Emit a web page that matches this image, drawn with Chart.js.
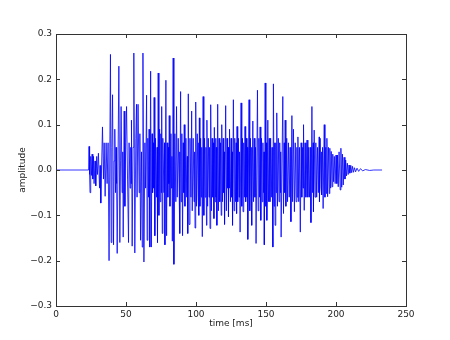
<!DOCTYPE html>
<html>
<head>
<meta charset="utf-8">
<script src="https://cdn.jsdelivr.net/npm/chart.js@4/dist/chart.umd.min.js"></script>
<style>
  body { margin: 0; background: #fff; }
</style>
</head>
<body>
<canvas id="wave" width="450" height="340"></canvas>
<script>
// [time ms, amplitude]
const silence = [[0, 0], [23.3, 0]];

const onset = [
  [23.6, 0.052], [24.0, -0.01], [24.3, -0.05], [24.8, 0.03], [25.3, -0.012], [25.8, 0.035],
  [26.3, -0.02], [26.8, 0.03], [27.2, -0.03], [27.9, 0.02], [28.4, -0.035], [29.1, 0.03],
  [29.6, -0.01], [30.3, 0.037], [31.1, -0.04], [31.5, 0.01], [32.0, -0.073], [32.5, 0.0],
  [33.2, 0.095], [33.9, -0.02], [34.4, 0.06], [35.1, -0.058], [35.8, 0.06], [36.5, -0.03],
  [37.2, 0.06]
];

const voiced = [
  [37.9, -0.2], [38.9, 0.255], [39.4, -0.16], [39.9, 0.05], [40.4, 0.166], [41.1, -0.165], [41.5, 0.02], [42.0, 0.09], [42.5, -0.05], [42.9, 0.05], [43.3, -0.03], [43.7, -0.184],
  [44.9, 0.229], [45.6, -0.16], [46.1, 0.02], [46.5, 0.14], [47.2, -0.05], [47.7, 0.04], [48.0, -0.148], [48.7, 0.13], [49.2, -0.08], [49.8, 0.06],
  [50.4, 0.14], [51.1, -0.02], [51.8, -0.16], [52.2, 0.06], [52.9, -0.04], [53.4, 0.05], [53.6, -0.03], [53.9, 0.11], [54.4, -0.168], [55.0, 0.05],
  [55.6, 0.258], [56.3, -0.183], [57.0, 0.07], [57.5, 0.145], [57.9, -0.06], [58.6, 0.145], [59.4, -0.05], [59.9, 0.08], [60.4, -0.155], [61.1, 0.04], [61.6, -0.17],
  [62.1, 0.258], [62.8, -0.203], [63.5, 0.06], [64.0, -0.04], [64.7, 0.165], [65.1, -0.155], [65.6, 0.07], [66.1, -0.06], [66.5, 0.09], [67.0, -0.17],
  [67.6, 0.218], [68.1, -0.17], [68.6, 0.08], [69.0, -0.05], [69.5, 0.06], [69.8, -0.04], [70.1, 0.16], [70.6, -0.145], [71.1, 0.07], [71.8, -0.06], [72.2, 0.05], [72.5, -0.16],
  [73.0, 0.214], [73.5, -0.1], [74.0, 0.09], [74.4, -0.07], [74.9, 0.08], [75.2, -0.05], [75.5, 0.14], [75.9, -0.14], [76.3, 0.07], [77.1, -0.05], [77.5, 0.06], [77.8, -0.165],
  [78.5, 0.198], [79.0, -0.145], [79.4, 0.06], [79.9, -0.06], [80.4, 0.05], [80.6, -0.03], [80.9, 0.12], [81.4, -0.08], [82.1, 0.08], [82.5, -0.04], [82.8, 0.03], [83.1, -0.157],
  [83.7, 0.247], [84.2, -0.208], [84.9, 0.08], [85.6, -0.07], [86.1, 0.14], [86.6, -0.06], [87.3, 0.07], [88.0, -0.05], [88.3, 0.04], [88.5, -0.14],
  [89.0, 0.173], [89.4, -0.07], [89.9, 0.08], [90.4, -0.145], [90.9, 0.06], [91.3, -0.05], [91.6, 0.1], [92.1, -0.08], [92.8, 0.07], [93.4, -0.06], [93.8, 0.03], [94.1, -0.14],
  [94.5, 0.168], [95.0, -0.12], [95.7, 0.07], [96.4, -0.06], [96.9, 0.13], [97.3, -0.09], [98.0, 0.07], [98.6, -0.07], [99.0, 0.04], [99.3, -0.128],
  [99.8, 0.15], [100.3, -0.08], [100.9, 0.08], [101.5, -0.06], [101.9, 0.06], [102.1, -0.1], [102.4, 0.115], [102.8, -0.08], [103.3, 0.07], [103.8, -0.06], [104.1, 0.05], [104.5, -0.147],
  [105.1, 0.162], [105.6, -0.1], [106.1, 0.07], [106.6, -0.06], [107.1, 0.05], [107.5, -0.122], [107.8, 0.11], [108.3, -0.08], [108.8, 0.07], [109.3, -0.06], [109.7, 0.05], [110.0, -0.129],
  [110.5, 0.144], [111.0, -0.09], [111.5, 0.07], [112.0, -0.06], [112.4, 0.06], [112.8, -0.107], [113.1, 0.094], [113.6, -0.07], [114.1, 0.07], [114.2, -0.06], [114.5, 0.05], [114.9, -0.122],
  [115.5, 0.145], [116.0, -0.09], [116.5, 0.07], [117.0, -0.07], [117.5, 0.06], [118.0, -0.1], [118.4, 0.1], [118.9, -0.07], [119.4, 0.07], [119.8, -0.05], [120.0, 0.04], [120.4, -0.12],
  [121.2, 0.142], [121.7, -0.09], [122.2, 0.07], [122.6, -0.04], [122.9, 0.05], [123.2, -0.103], [123.6, 0.05], [123.8, -0.04], [124.1, 0.09], [124.6, -0.07], [125.1, 0.07], [125.5, -0.06], [125.8, 0.04], [126.1, -0.122],
  [126.7, 0.155], [127.2, -0.09], [127.7, 0.07], [128.2, -0.07], [128.7, 0.06], [129.0, -0.096], [129.3, 0.096], [129.8, -0.07], [130.3, 0.07], [130.8, -0.06], [131.1, 0.04], [131.5, -0.137],
  [132.2, 0.148], [132.7, -0.08], [133.2, 0.07], [133.6, -0.092], [134.1, 0.06], [134.6, -0.06], [135.0, 0.096], [135.5, -0.07], [136.0, 0.07], [136.4, -0.06], [136.7, 0.05], [137.0, -0.153],
  [137.9, 0.155], [138.4, -0.09], [138.9, 0.07], [139.4, -0.06], [139.7, 0.05], [139.9, -0.122], [140.6, 0.108], [141.1, -0.07], [141.6, 0.07], [142.1, -0.06], [142.5, 0.05], [142.9, -0.162],
  [143.9, 0.176], [144.4, -0.09], [144.9, 0.07], [145.4, -0.06], [145.8, 0.095], [146.3, -0.111], [146.8, 0.07], [147.3, -0.07], [147.8, 0.06], [148.3, -0.05], [148.6, 0.04], [148.8, -0.165],
  [149.4, 0.192], [149.9, -0.08], [150.3, 0.06], [150.6, -0.111], [151.3, 0.11], [151.8, -0.07], [152.3, 0.07], [152.8, -0.07], [153.3, 0.07], [153.8, -0.06], [154.3, 0.05], [154.9, -0.17],
  [155.3, 0.19], [155.8, -0.08], [156.2, 0.06], [156.5, -0.122], [157.0, 0.06], [157.3, -0.05], [157.7, 0.126], [158.2, -0.08], [158.8, 0.07], [159.3, -0.07], [159.8, 0.06], [160.3, -0.05], [160.5, 0.04], [160.8, -0.148],
  [162.0, 0.162], [162.5, -0.096], [163.0, 0.06], [163.4, -0.05], [163.7, 0.11], [164.2, -0.08], [164.8, 0.07], [165.4, -0.07], [166.0, 0.06], [166.6, -0.06], [167.2, 0.05], [167.8, -0.114],
  [168.5, 0.12], [169.0, -0.07], [169.6, 0.09], [170.3, -0.092], [170.9, 0.06], [171.5, -0.07], [172.1, 0.05], [172.3, -0.06], [172.8, 0.073], [173.4, -0.07], [173.9, 0.05], [174.5, -0.137],
  [175.1, 0.06], [175.6, -0.06], [176.2, 0.05], [176.5, -0.04], [176.8, 0.1], [177.3, -0.089], [177.9, 0.06], [178.5, -0.06], [179.3, 0.066], [179.9, -0.06], [180.5, 0.05], [181.1, -0.06], [181.6, 0.05], [182.1, -0.116],
  [182.8, 0.14], [183.3, -0.05], [183.7, 0.06], [183.9, -0.092], [184.4, 0.088], [185.0, -0.06], [185.6, 0.06], [186.2, -0.06], [186.8, 0.05], [187.4, -0.05], [188.0, 0.073], [188.2, -0.07], [188.7, 0.07], [189.3, -0.04], [189.6, 0.04], [189.9, -0.055], [190.4, 0.05], [190.8, -0.085]
];

const decay = [
  [191.6, 0.1], [192.1, -0.06], [192.7, 0.05], [193.2, -0.052], [193.5, 0.07], [194.0, -0.059], [194.6, 0.05],
  [195.2, -0.052], [195.6, 0.048], [196.2, -0.04], [196.6, 0.041], [197.2, -0.037], [197.7, 0.035], [198.3, -0.026],
  [198.8, 0.03], [199.4, -0.03], [200.0, 0.033], [200.6, -0.03], [201.0, 0.033], [201.6, -0.037], [202.2, 0.04],
  [203.0, -0.044], [203.5, 0.048], [204.1, -0.038], [204.6, 0.035], [205.2, -0.033], [205.8, 0.028], [206.4, -0.02],
  [206.9, 0.022], [207.5, -0.013], [208.1, 0.015], [208.7, -0.01], [209.3, 0.011], [209.9, -0.007], [210.6, 0.01],
  [211.2, -0.006], [211.8, 0.008], [212.5, -0.005], [213.2, 0.005], [214.0, -0.004], [215.0, 0.004], [216.2, -0.003],
  [217.5, 0.003], [219.0, -0.002], [221.0, 0.001], [224.0, -0.001], [227.0, 0], [232.9, 0]
];

const xTicks = [0, 50, 100, 150, 200, 250];
const yTicks = [-0.3, -0.2, -0.1, 0.0, 0.1, 0.2, 0.3];

const font = { family: "'DejaVu Sans', sans-serif", size: 9 };
const ink = "#222";

// matplotlib style: closed frame with inward ticks on every side
const frame = {
  id: "frame",
  afterDraw(chart) {
    const { ctx, chartArea: a, scales: { x, y } } = chart;
    ctx.save();
    ctx.strokeStyle = "#333";
    ctx.lineWidth = 1;
    ctx.beginPath();
    xTicks.forEach(v => {
      const px = Math.round(x.getPixelForValue(v)) + 0.5;
      ctx.moveTo(px, a.bottom); ctx.lineTo(px, a.bottom - 4);
      ctx.moveTo(px, a.top); ctx.lineTo(px, a.top + 4);
    });
    yTicks.forEach(v => {
      const py = Math.round(y.getPixelForValue(v)) + 0.5;
      ctx.moveTo(a.left, py); ctx.lineTo(a.left + 4, py);
      ctx.moveTo(a.right, py); ctx.lineTo(a.right - 4, py);
    });
    ctx.stroke();
    ctx.strokeRect(Math.round(a.left) + 0.5, Math.round(a.top) + 0.5,
      Math.round(a.right - a.left), Math.round(a.bottom - a.top));
    ctx.restore();
  }
};

new Chart(document.getElementById("wave"), {
  type: "line",
  data: {
    datasets: [
      {
        label: "amplitude",
        data: [...silence, ...onset, ...voiced, ...decay].map(([t, v]) => ({ x: t, y: v })),
        borderColor: "#0000ff",
        borderWidth: 0.8,
        pointRadius: 0,
        tension: 0,
        fill: false
      }
    ]
  },
  options: {
    responsive: false,
    animation: false,
    events: [],
    layout: { padding: { top: 34, right: 44, left: 0, bottom: 0 } },
    plugins: {
      legend: { display: false },
      tooltip: { enabled: false }
    },
    scales: {
      x: {
        type: "linear",
        min: 0,
        max: 250,
        afterBuildTicks: s => { s.ticks = xTicks.map(v => ({ value: v })); },
        afterFit: s => { s.height = 34; },
        grid: { display: false, drawTicks: false },
        border: { display: false },
        ticks: { font, color: ink, padding: 3, maxRotation: 0, callback: v => String(v) },
        title: { display: true, text: "time [ms]", font, color: ink, padding: { top: 0, bottom: 11 } }
      },
      y: {
        type: "linear",
        min: -0.3,
        max: 0.3,
        afterBuildTicks: s => { s.ticks = yTicks.map(v => ({ value: v })); },
        afterFit: s => { s.width = 56; },
        grid: { display: false, drawTicks: false },
        border: { display: false },
        ticks: { font, color: ink, padding: 4, callback: v => v.toFixed(1).replace("-", "\u2212") },
        title: { display: true, text: "amplitude", font, color: ink, padding: { top: 17, bottom: 0 } }
      }
    }
  },
  plugins: [frame]
});
</script>
</body>
</html>
